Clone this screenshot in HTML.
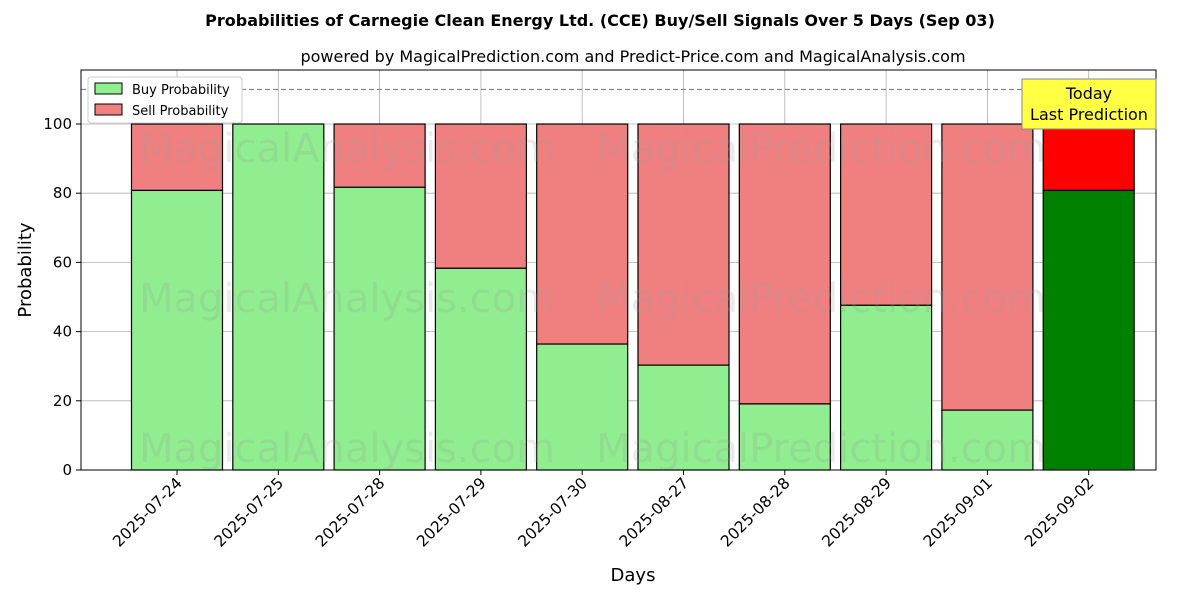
<!DOCTYPE html>
<html><head><meta charset="utf-8"><style>body{margin:0;background:#fff}svg{font-family:"DejaVu Sans","Liberation Sans",sans-serif}</style></head>
<body>
<svg width="1200" height="600" viewBox="0 0 1200 600">
<text x="600" y="26" text-anchor="middle" font-size="16" font-weight="bold">Probabilities of Carnegie Clean Energy Ltd. (CCE) Buy/Sell Signals Over 5 Days (Sep 03)</text>
<text x="633" y="62" text-anchor="middle" font-size="16">powered by MagicalPrediction.com and Predict-Price.com and MagicalAnalysis.com</text>
<g id="grid"></g>
<g id="bars"></g>
<g id="wm" font-size="40" fill="#999" opacity="0.2">
<text x="347" y="162" text-anchor="middle">MagicalAnalysis.com</text>
<text x="821" y="162" text-anchor="middle">MagicalPrediction.com</text>
<text x="347" y="312" text-anchor="middle">MagicalAnalysis.com</text>
<text x="821" y="312" text-anchor="middle">MagicalPrediction.com</text>
<text x="347" y="462" text-anchor="middle">MagicalAnalysis.com</text>
<text x="821" y="462" text-anchor="middle">MagicalPrediction.com</text>
</g>
<line x1="81" x2="1156" y1="89.4" y2="89.4" stroke="#777" stroke-dasharray="5,3"/>
<rect x="81" y="70" width="1075" height="400" fill="none" stroke="#000"/>
<g id="axes"></g>
<text x="31" y="270" text-anchor="middle" font-size="18" transform="rotate(-90 31 270)">Probability</text>
<text x="633" y="581" text-anchor="middle" font-size="18">Days</text>
<g>
<rect x="88" y="77" width="154" height="46" fill="#fff" stroke="#ccc" rx="3"/>
<rect x="95" y="83" width="27" height="11" fill="#90ee90" stroke="#000"/>
<text x="132" y="94" font-size="13">Buy Probability</text>
<rect x="95" y="104" width="27" height="11" fill="#f08080" stroke="#000"/>
<text x="132" y="115" font-size="13">Sell Probability</text>
</g>
<g>
<rect x="1022" y="79" width="134" height="50" fill="#ffff44" stroke="#888"/>
<text x="1089" y="99" text-anchor="middle" font-size="16">Today</text>
<text x="1089" y="120" text-anchor="middle" font-size="16">Last Prediction</text>
</g>
</svg>
<script>
const categories=["2025-07-24","2025-07-25","2025-07-28","2025-07-29","2025-07-30","2025-08-27","2025-08-28","2025-08-29","2025-09-01","2025-09-02"];
const buyValues=[80.8,100,81.7,58.3,36.4,30.3,19.1,47.6,17.3,80.8];
const yTicks=[0,20,40,60,80,100];
const NS="http://www.w3.org/2000/svg";
const y=v=>470-v*3.46;
const x=i=>177+i*101.3;
function mk(tag,attrs,parent){const e=document.createElementNS(NS,tag);for(const k in attrs)e.setAttribute(k,attrs[k]);document.getElementById(parent).appendChild(e);return e;}
yTicks.forEach(t=>{
 const g=mk('line',{x1:81,x2:1156,y1:y(t),y2:y(t),stroke:'#b0b0b0','stroke-width':0.8},'grid');
 
 
 const tk=mk('line',{x1:76,x2:81,y1:y(t),y2:y(t),stroke:'#000'},'axes');
 
 
 const l=mk('text',{x:72,y:y(t)+5,'text-anchor':'end','font-size':15},'axes');
 l.textContent=t;
 
 
});
categories.forEach((c,i)=>{
 const g=mk('line',{x1:x(i),x2:x(i),y1:70,y2:470,stroke:'#b0b0b0','stroke-width':0.8},'grid');
 
 
 const last=i===categories.length-1;
 const b=buyValues[i];
 const sr=mk('rect',{x:x(i)-45.5,y:y(100),width:91,height:y(b)-y(100),fill:last?'#ff0000':'#f08080',stroke:'#000','stroke-width':1.2},'bars');
 
 
 const br=mk('rect',{x:x(i)-45.5,y:y(b),width:91,height:470-y(b),fill:last?'#008000':'#90ee90',stroke:'#000','stroke-width':1.2},'bars');
 
 
 const tk=mk('line',{x1:x(i),x2:x(i),y1:470,y2:475,stroke:'#000'},'axes');
 
 
 const l=mk('text',{x:x(i)+6,y:484,'text-anchor':'end','font-size':15.5,transform:`rotate(-45 ${x(i)+6} 484)`},'axes');
 l.textContent=c;
 
 
});
</script>
</body></html>
